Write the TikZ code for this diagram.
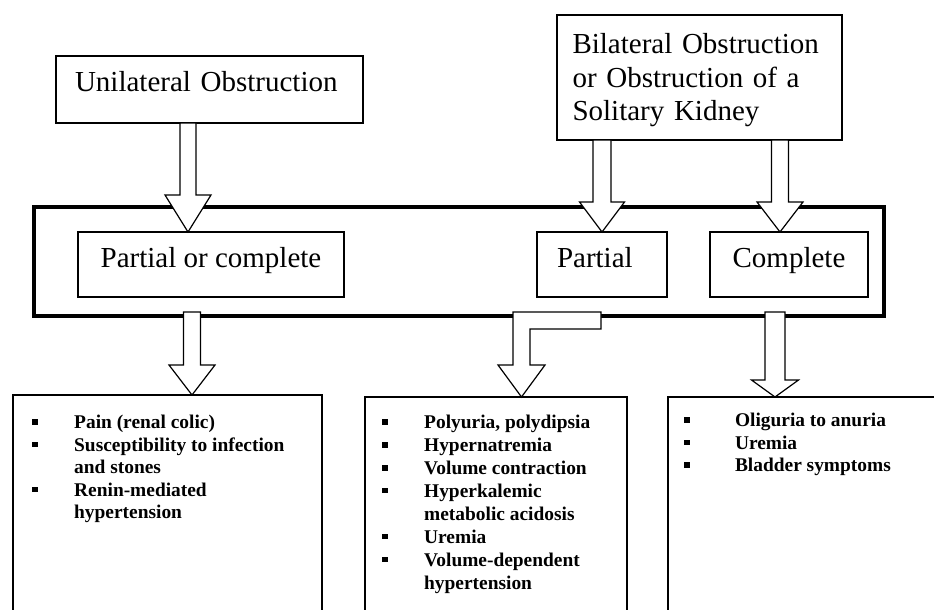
\documentclass[tikz,border=0pt]{standalone}
\usepackage{fontspec}
\setmainfont{Liberation Serif}
\usetikzlibrary{calc}

% square list bullet followed by the hanging indent
\newcommand\lbul[1][42pt]{\makebox[#1][l]{\raisebox{4pt}{\rule{5.5pt}{5.5pt}}}}
\newcommand\lind[1][42pt]{\hspace*{#1}}
% fixed height of the first list line, so the block top is predictable
\newcommand\firstline{\rule{0pt}{15pt}}

% hollow block arrow pointing down: top point, tip point,
% shaft half width, head half width, head length (pt)
\newcommand\blockdown[5]{%
  \draw[blk] let \p1=(#1), \p2=(#2) in
    (\x2-#3pt,\y1) -- (\x2-#3pt,\y2+#5pt) -- (\x2-#4pt,\y2+#5pt) -- (\x2,\y2)
    -- (\x2+#4pt,\y2+#5pt) -- (\x2+#3pt,\y2+#5pt) -- (\x2+#3pt,\y1) -- cycle;}

\begin{document}
\begin{tikzpicture}[x=1pt,y=-1pt,
  box/.style={draw,line width=1.3pt,rectangle,inner sep=0pt,outer sep=0pt,
    font=\fontsize{29}{33.5}\selectfont},
  frame/.style={draw,line width=3.5pt,rectangle,inner sep=0pt,outer sep=0pt},
  listbox/.style={draw,line width=1.3pt,rectangle,inner sep=0pt,outer sep=0pt,anchor=north west},
  blk/.style={draw,fill=white,line width=1.2pt,line join=miter},
  listtext/.style={anchor=north west,inner sep=0pt,align=left,
    font=\bfseries\fontsize{19.4}{22.5}\selectfont}]

\useasboundingbox[fill=white] (0,0) rectangle (934,610);
\clip (0,0) rectangle (934,610);

% enclosing frame around the obstruction types
\node[frame,minimum width=850pt,minimum height=109pt] (frame) at (459,261.5) {};

% top level boxes
\node[box,minimum width=307pt,minimum height=67pt,text width=269pt,align=left,
  text height=20pt,text depth=15.8pt] (uni) at (209.5,89.5) {Unilateral Obstruction};
\node[box,minimum width=285pt,minimum height=125pt,text width=254pt,align=left]
  (bil) at (699.5,77.5) {\rule{0pt}{26pt}Bilateral Obstruction\\or Obstruction of a\\Solitary Kidney};

% obstruction types
\node[box,minimum width=266pt,minimum height=65pt,text height=20pt,text depth=13.8pt]
  (poc) at (211,264.5) {Partial or complete};
\node[box,minimum width=130pt,minimum height=65pt,text width=90pt,align=left,
  text height=20pt,text depth=13.8pt] (part) at (602,264.5) {Partial};
\node[box,minimum width=158pt,minimum height=65pt,text height=20pt,text depth=13.8pt]
  (comp) at (789,264.5) {Complete};

% arrows into the types
\blockdown{188,0 |- uni.south}{188,0 |- poc.north}{8}{23}{37}
\blockdown{602,0 |- bil.south}{602,0 |- part.north}{9}{22.5}{30}
\blockdown{780,0 |- bil.south}{780,0 |- comp.north}{8.5}{23}{30}

% consequence boxes
\node[listbox,minimum width=309pt,minimum height=240pt] (b1) at (13,395) {};
\node[listbox,minimum width=262pt,minimum height=240pt] (b2) at (365,397) {};
\node[listbox,minimum width=280pt,minimum height=240pt] (b3) at (668,397) {};

% arrows out of the frame
\coordinate (s1) at (192,312);
\coordinate (bend) at (601,312);
\coordinate (s3) at (775,312);
\blockdown{s1}{192,0 |- b1.north}{8.5}{23}{30}
\draw[blk] let \p1=(bend), \p2=(521.5,0 |- b2.north) in
  (\x2-8.5pt,\y1) -- (\x1,\y1) -- (\x1,\y1-17pt) -- (\x2+8.5pt,\y1-17pt)
  -- (\x2+8.5pt,\y2+32pt) -- (\x2+23.5pt,\y2+32pt) -- (\x2,\y2)
  -- (\x2-23.5pt,\y2+32pt) -- (\x2-8.5pt,\y2+32pt) -- cycle;
\blockdown{s3}{775,0 |- b3.north}{10}{23.5}{17}

% consequence lists
\node[listtext] (l1) at (32,413.5)
  {\firstline\lbul Pain (renal colic)\\\lbul Susceptibility to infection\\\lind and stones\\
   \lbul Renin-mediated\\\lind hypertension};
\node[listtext,font=\bfseries\fontsize{19.4}{22.9}\selectfont] (l2) at (382,413.5)
  {\firstline\lbul Polyuria, polydipsia\\\lbul Hypernatremia\\\lbul Volume contraction\\
   \lbul Hyperkalemic\\\lind metabolic acidosis\\\lbul Uremia\\
   \lbul Volume-dependent\\\lind hypertension};
\node[listtext] (l3) at (684,411.5)
  {\firstline\lbul[46pt] Oliguria to anuria\\\lbul[46pt] Uremia\\\lbul[46pt] Bladder symptoms};

\end{tikzpicture}
\end{document}
